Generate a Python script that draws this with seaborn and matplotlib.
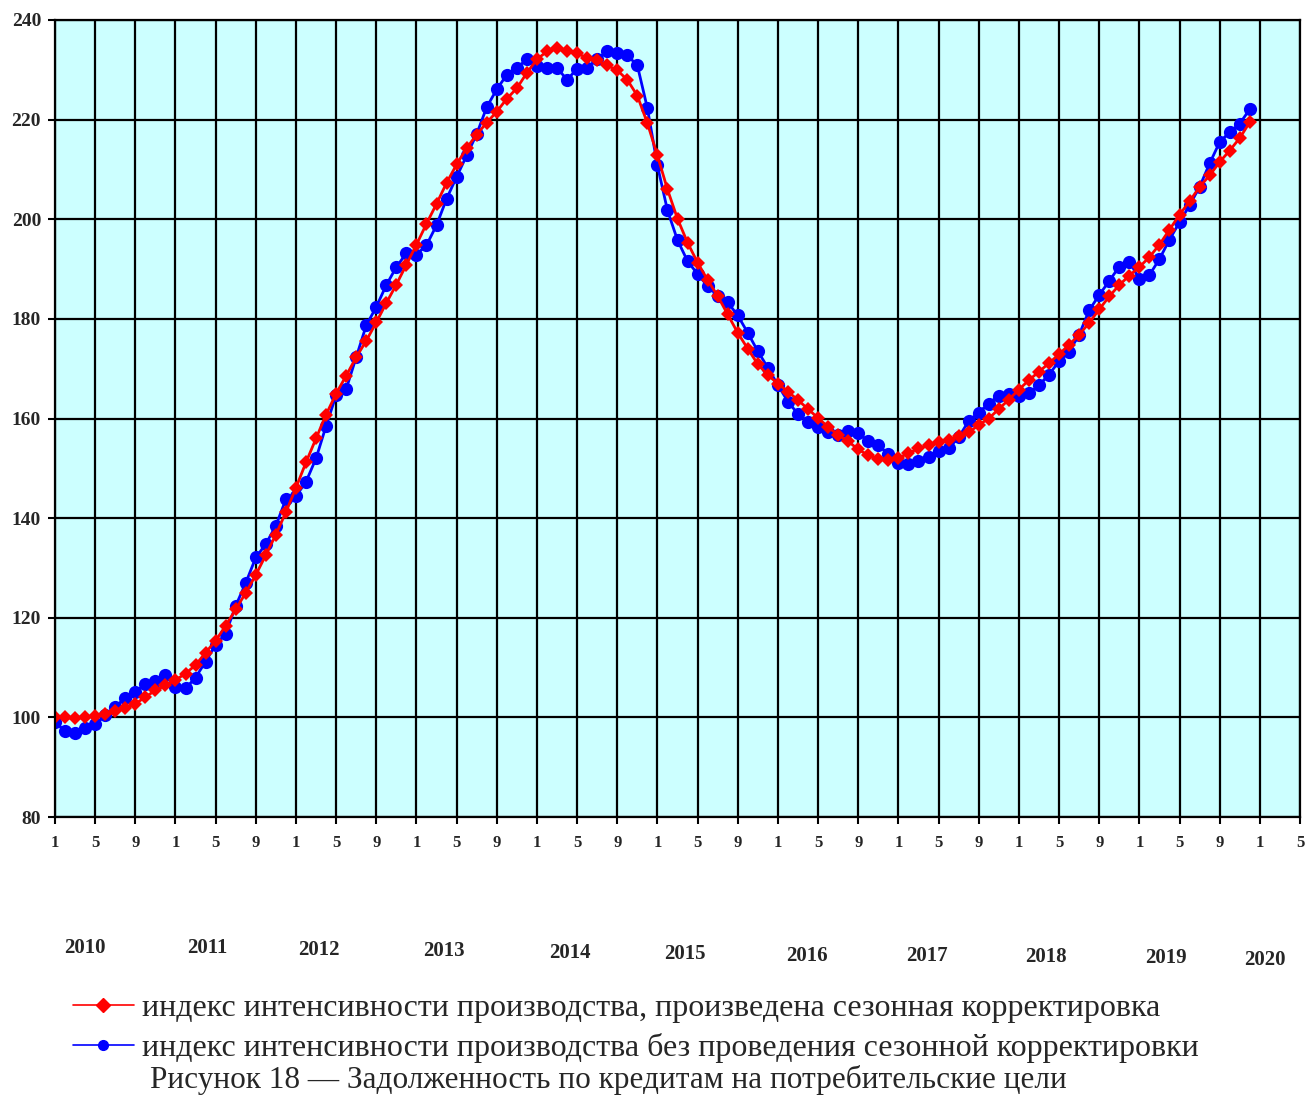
import numpy as np
import pandas as pd
import seaborn as sns
import matplotlib.pyplot as plt
from matplotlib.lines import Line2D

# monthly values, Jan 2010 .. Dec 2019
seasonal = [
    100.0, 100.0, 99.8, 100.0, 100.3, 100.7, 101.2, 101.8, 102.7, 104.1, 105.4, 106.4,
    107.5, 108.8, 110.5, 113.0, 115.4, 118.4, 121.7, 125.0, 128.6, 132.6, 136.7, 141.2,
    146.1, 151.2, 156.0, 160.8, 165.0, 168.6, 172.3, 175.6, 179.3, 183.2, 186.9, 190.9,
    194.9, 199.1, 203.1, 207.3, 211.0, 214.3, 217.0, 219.4, 221.6, 224.2, 226.3, 229.4,
    232.1, 233.7, 234.3, 233.7, 233.3, 232.4, 231.9, 230.9, 229.9, 228.0, 224.8, 219.3,
    212.8, 206.0, 200.1, 195.3, 191.3, 187.8, 184.6, 180.9, 177.2, 174.0, 170.9, 168.7,
    167.0, 165.4, 163.7, 161.9, 160.1, 158.3, 156.7, 155.4, 153.8, 152.6, 151.8, 151.7,
    152.1, 153.0, 154.0, 154.6, 155.2, 155.6, 156.5, 157.2, 158.7, 160.0, 161.9, 163.8,
    165.8, 167.7, 169.4, 171.1, 172.9, 174.8, 176.8, 179.2, 181.9, 184.5, 186.8, 188.7,
    190.4, 192.4, 194.9, 197.9, 200.9, 203.6, 206.5, 208.8, 211.5, 213.8, 216.3, 219.5,
]
raw = [
    99.0, 97.3, 96.9, 97.9, 98.6, 100.4, 102.1, 103.9, 105.1, 106.7, 107.4, 108.5,
    106.1, 105.8, 108.0, 111.2, 114.6, 116.8, 122.4, 127.0, 132.1, 134.8, 138.5, 143.8,
    144.4, 147.3, 152.0, 158.5, 164.7, 165.9, 172.3, 178.7, 182.4, 186.8, 190.4, 193.2,
    192.9, 194.8, 198.8, 204.1, 208.5, 212.8, 217.1, 222.5, 226.1, 229.0, 230.4, 232.1,
    230.7, 230.4, 230.4, 228.0, 230.2, 230.4, 232.2, 233.7, 233.4, 232.9, 230.9, 222.3,
    210.8, 201.8, 195.8, 191.6, 189.0, 186.6, 184.6, 183.3, 180.7, 177.2, 173.5, 170.2,
    166.7, 163.4, 160.9, 159.3, 158.3, 157.3, 156.6, 157.5, 157.0, 155.5, 154.7, 152.8,
    151.0, 150.8, 151.5, 152.2, 153.4, 154.0, 156.2, 159.5, 161.2, 163.0, 164.6, 165.0,
    164.6, 165.1, 166.7, 168.8, 171.5, 173.4, 176.8, 181.7, 184.8, 187.6, 190.5, 191.5,
    188.0, 188.8, 192.0, 195.9, 199.4, 202.8, 206.5, 211.2, 215.5, 217.5, 219.2, 222.1,
]
month_labels = ["1", "5", "9"] * 10 + ["1", "5"]
years = ["2010", "2011", "2012", "2013", "2014", "2015",
         "2016", "2017", "2018", "2019", "2020"]
label_adj = "индекс интенсивности производства, произведена сезонная корректировка"
label_raw = "индекс интенсивности производства без проведения сезонной корректировки"
caption = "Рисунок 18 — Задолженность по кредитам на потребительские цели"

df = pd.DataFrame({"month": np.arange(len(seasonal)), "adj": seasonal, "raw": raw})

sns.set_style("ticks")
plt.rcParams["font.family"] = ["Liberation Serif", "DejaVu Serif"]

W, H = 1307, 1097
fig = plt.figure(figsize=(W / 100, H / 100), dpi=100)
ax = fig.add_axes([55 / W, 1 - 817 / H, 1245 / W, 797 / H])
ax.set_facecolor("#ccffff")

sns.lineplot(data=df, x="month", y="raw", ax=ax, color="#0000ff", marker="o",
             markersize=9.5, linewidth=2, markeredgewidth=0)
sns.lineplot(data=df, x="month", y="adj", ax=ax, color="#ff0000", marker="D",
             markersize=6.8, linewidth=2, markeredgewidth=0)

ax.set_xlim(0, 124)
ax.set_ylim(80, 240)
ax.set_xticks(np.arange(0, 125, 4))
ax.set_xticklabels(month_labels, fontsize=12, fontweight="bold")
ax.set_yticks(np.arange(80, 241, 20))
ax.set_yticklabels([str(v) for v in range(80, 241, 20)], fontsize=14, fontweight="bold")
ax.tick_params(axis="both", direction="out", length=5, width=1.5, color="black", pad=6)
ax.tick_params(axis="y", pad=5)
ax.tick_params(axis="x", pad=8)
ax.set_xlabel("")
ax.set_ylabel("")
ax.grid(True, color="black", linewidth=1.6)
ax.set_axisbelow(True)
for s in ax.spines.values():
    s.set_color("black")
    s.set_linewidth(1.6)

# year labels under the month ticks
year_pos = [(85, 948), (207, 948), (319, 950), (444, 951), (570, 953), (685, 954),
            (807, 956), (927, 956), (1046, 957), (1166, 958), (1265, 960)]
for yr, (px, py) in zip(years, year_pos):
    fig.text(px / W, 1 - py / H, yr, fontsize=15, fontweight="bold",
             ha="center", va="center")

handles = [
    Line2D([], [], color="#ff0000", marker="D", markersize=7, linewidth=1.2),
    Line2D([], [], color="#0000ff", marker="o", markersize=7, linewidth=1.2),
]
fig.legend(handles, [label_adj, label_raw], loc="upper left",
           bbox_to_anchor=(73 / W, 1 - 994 / H), frameon=False, fontsize=23,
           handlelength=1.9, handletextpad=0.25, labelspacing=0.3,
           borderpad=0, borderaxespad=0)
fig.text(150 / W, 1 - 1088 / H, caption, fontsize=22.5, ha="left", va="baseline")

fig.savefig("out.png", dpi=100)
